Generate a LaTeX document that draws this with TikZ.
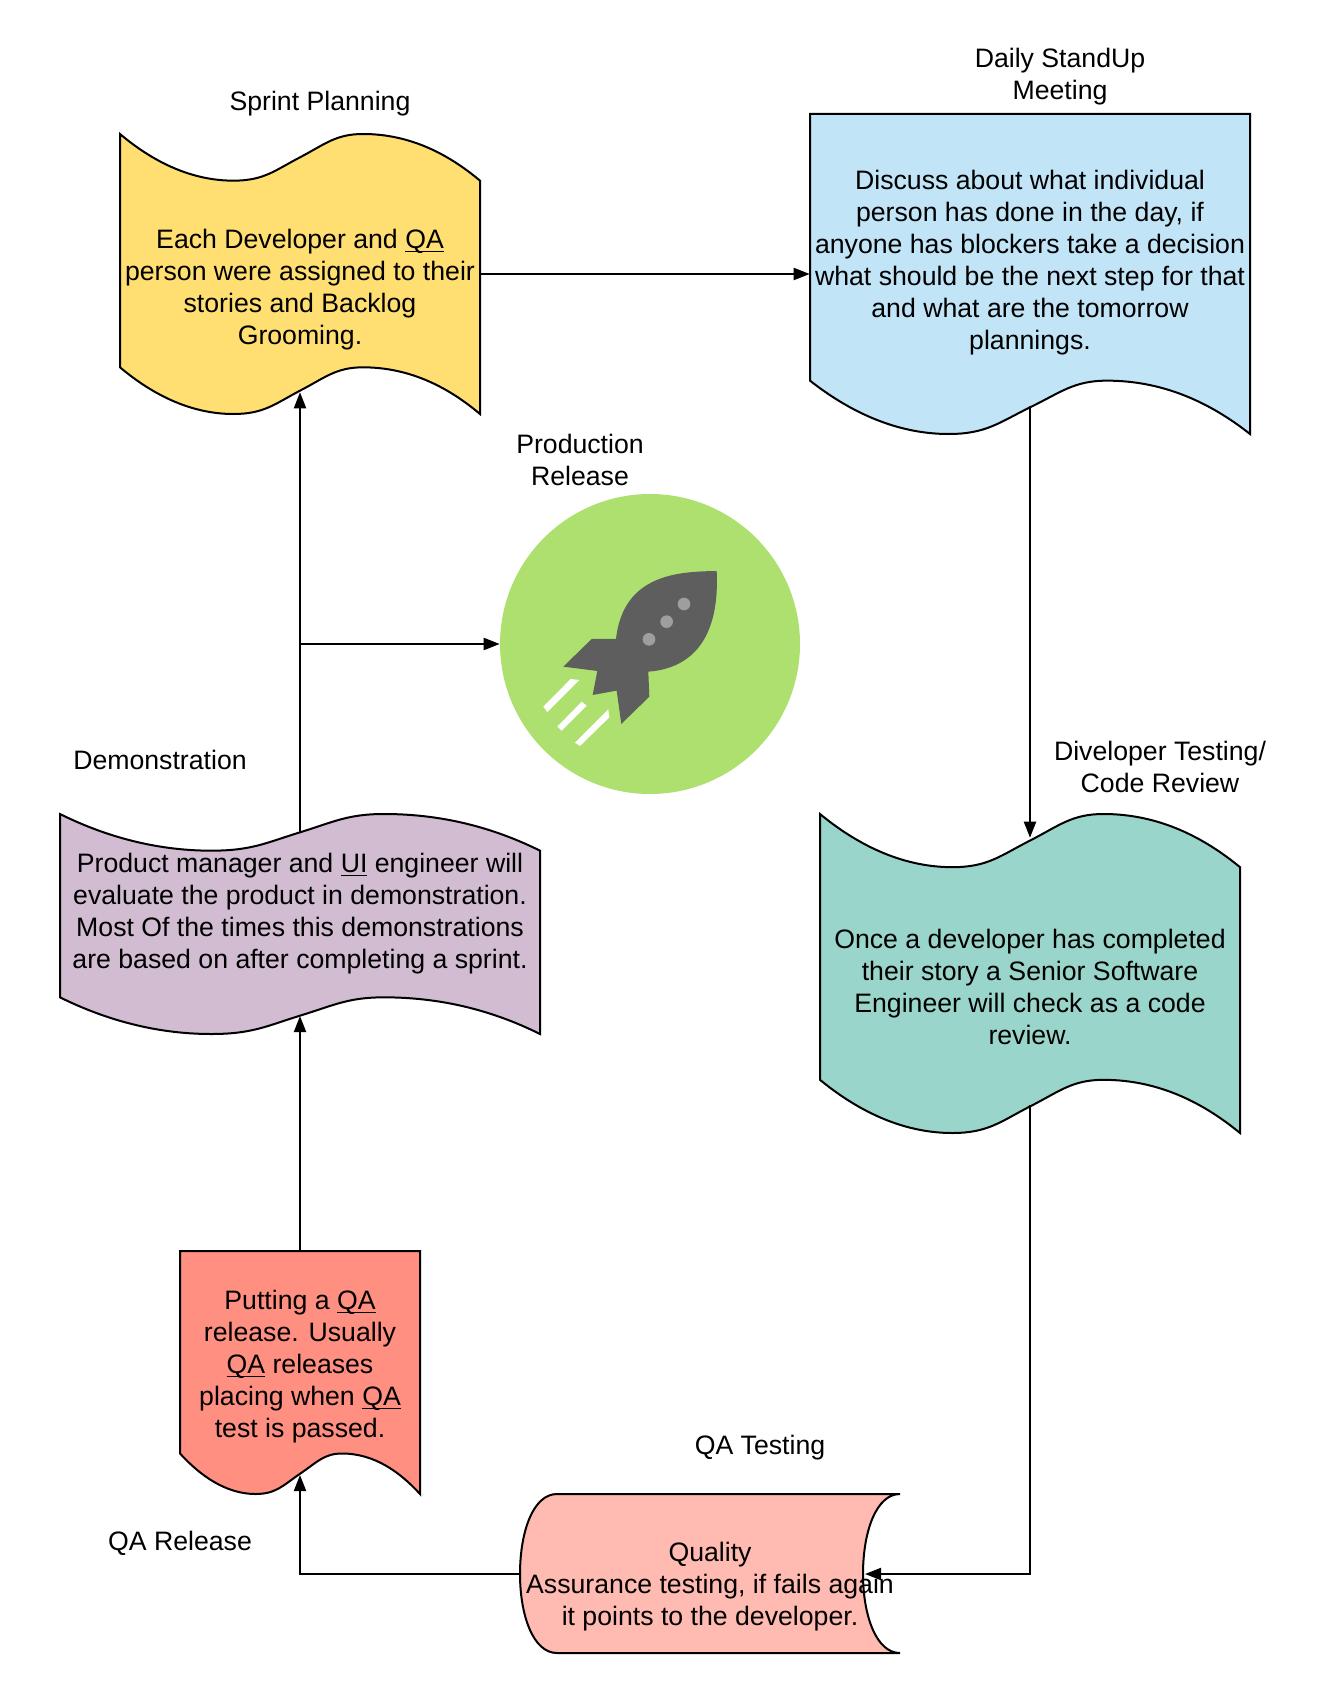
\documentclass[tikz,border=0pt]{standalone}
\usepackage{fontspec}
\setmainfont{Liberation Sans}
\usepackage{xcolor}
\usetikzlibrary{arrows.meta}

\definecolor{planfill}{HTML}{FFDF71}
\definecolor{standupfill}{HTML}{C1E4F7}
\definecolor{demofill}{HTML}{D1BCD2}
\definecolor{reviewfill}{HTML}{99D5CA}
\definecolor{releasefill}{HTML}{FF8F80}
\definecolor{testfill}{HTML}{FFBBB1}
\definecolor{rocketfill}{HTML}{AEE06F}
\definecolor{rocketbody}{HTML}{5E5E5E}
\definecolor{rocketdot}{HTML}{9E9E9E}

\newcommand{\ulword}[1]{\leavevmode\setbox0\hbox{#1}\rlap{\rule[-2.6pt]{\wd0}{1pt}}\box0\relax}

\begin{document}
\begin{tikzpicture}[
    x=0.75pt, y=-0.75pt,
    font=\fontsize{20}{24}\selectfont,
    body/.style={align=center, inner sep=0pt},
    caption/.style={align=center, inner sep=0pt},
    outline/.style={draw=black, line width=1.5pt},
    arrow/.style={line width=1.5pt,->,>={Stealth[length=12pt,width=9pt,inset=0pt]}},
    wavy/.pic={
        \path[pic actions] (0,0) .. controls (0.083,0.09) and (0.19,0.1667) .. (0.315,0.1667)
            .. controls (0.4,0.1667) and (0.43,0.13) .. (0.5,0.0833)
            .. controls (0.57,0.036) and (0.6,0) .. (0.675,0)
            .. controls (0.81,0) and (0.917,0.077) .. (1,0.1667)
            -- (1,1) .. controls (0.917,0.91) and (0.81,0.8333) .. (0.675,0.8333)
            .. controls (0.6,0.8333) and (0.57,0.87) .. (0.5,0.9167)
            .. controls (0.43,0.964) and (0.4,1) .. (0.315,1)
            .. controls (0.19,1) and (0.083,0.923) .. (0,0.8333) -- cycle;
    },
    flagged/.pic={
        \path[pic actions] (0,0) -- (1,0)
            -- (1,1) .. controls (0.917,0.91) and (0.81,0.8333) .. (0.675,0.8333)
            .. controls (0.6,0.8333) and (0.57,0.87) .. (0.5,0.9167)
            .. controls (0.43,0.964) and (0.4,1) .. (0.315,1)
            .. controls (0.19,1) and (0.083,0.923) .. (0,0.8333) -- cycle;
    }
]
\useasboundingbox (0,0) rectangle (1320,1694);

% Shapes
\pic[outline, fill=planfill, xscale=360, yscale=280] at (120,134) {wavy};
\pic[outline, fill=standupfill, xscale=440, yscale=320] at (810,114) {flagged};
\pic[outline, fill=demofill, xscale=480, yscale=220] at (60,814) {wavy};
\pic[outline, fill=reviewfill, xscale=420, yscale=319] at (820,814) {wavy};
\pic[outline, fill=releasefill, xscale=240, yscale=243] at (180,1251) {flagged};
\draw[outline, fill=testfill] (900,1494) -- (557,1494)
    .. controls (533,1494) and (520,1532) .. (520,1574)
    .. controls (520,1615) and (533,1653) .. (557,1653)
    -- (900,1653) .. controls (876,1653) and (863,1615) .. (863,1574)
    .. controls (863,1532) and (876,1494) .. (900,1494);

% Nodes
\node (planning) [body, minimum width=270pt, minimum height=153pt] at (300,290)
    {Each Developer and \ulword{QA}\\person were assigned to their\\stories and Backlog\\Grooming.};
\node (standup) [body, minimum width=330pt] at (1030,263)
    {Discuss about what individual\\person has done in the day, if\\anyone has blockers take a decision\\what should be the next step for that\\and what are the tomorrow\\plannings.};
\node (demo) [body, minimum width=360pt] at (300,914)
    {Product manager and \ulword{UI} engineer will\\evaluate the product in demonstration.\\Most Of the times this demonstrations\\are based on after completing a sprint.};
\node (review) [body, minimum width=315pt, minimum height=223.5pt] at (1030,987)
    {Once a developer has completed\\their story a Senior Software\\Engineer will check as a code\\review.};
\node (qarelease) [body, minimum width=180pt, minimum height=175.5pt] at (300,1367)
    {Putting a \ulword{QA}\\release. Usually\\\ulword{QA} releases\\placing when \ulword{QA}\\test is passed.};
\node (qatest) [body, minimum width=285pt] at (710,1587)
    {Quality\\Assurance testing, if fails again\\it points to the developer.};
\node (rocket) [circle, fill=rocketfill, inner sep=0pt, minimum size=225pt] at (650,644) {};

% Rocket
\begin{scope}[shift={(480,480)}, xscale=0.3333, yscale=0.3333]
    \fill[rocketbody] (710,273) .. controls (600,275) and (430,280) .. (408,477)
        -- (335,477) -- (250,560) -- (352,573) -- (338,645) -- (410,632) -- (424,732)
        -- (508,650) -- (505,575) .. controls (640,565) and (720,470) .. (710,273) -- cycle;
    \fill[rocketdot] (612,372) circle (19) (560,425) circle (19) (507,478) circle (19);
    \fill[white] (190,680) -- (272,597) -- (298,600) -- (202,696) -- cycle;
    \fill[white] (232,740) -- (305,665) -- (320,677) -- (245,752) -- cycle;
    \fill[white] (285,788) -- (385,688) -- (388,712) -- (300,798) -- cycle;
\end{scope}

% Captions
\node (planningcap) [caption] at (320,104) {Sprint Planning};
\node (standupcap) [caption] at (1060,77) {Daily StandUp\\Meeting};
\node (rocketcap) [caption] at (580,460) {Production\\Release};
\node (democap) [caption] at (160,760) {Demonstration};
\node (reviewcap) [caption] at (1160,767) {Diveloper Testing/\\Code Review};
\node (qatestcap) [caption] at (760,1448) {QA Testing};
\node (qareleasecap) [caption] at (180,1543) {QA Release};

% Ports on the wavy edges
\coordinate (planningout) at (480,274);
\coordinate (standupout) at (1030,406);
\coordinate (demoout) at (300,832);
\coordinate (demoin) at (300,1016);
\coordinate (reviewout) at (1030,1105);
\coordinate (qareleasein) at (300,1475);
\coordinate (qatestin) at (865,1574);
\coordinate (qatestout) at (520,1574);

% Links
\draw[arrow] (planningout) -- (planningout -| standup.west);
\draw[arrow] (standupout) -- (review.north);
\draw[arrow] (reviewout) |- (qatestin);
\draw[arrow] (qatestout) -| (qareleasein);
\draw[arrow] (qarelease.north) -- (demoin);
\draw[arrow] (demoout) -- (planning.south);
\draw[arrow] (demoout |- rocket.west) -- (rocket.west);

\end{tikzpicture}
\end{document}
